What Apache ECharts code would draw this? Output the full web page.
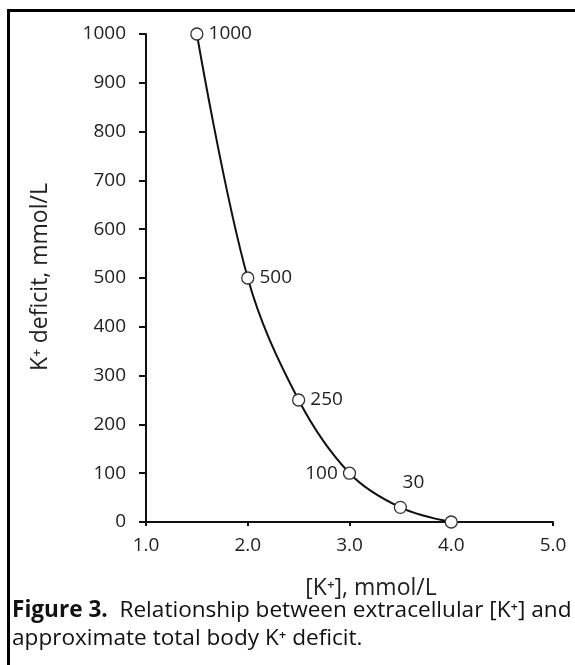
<!DOCTYPE html>
<html>
<head>
<meta charset="utf-8">
<script src="https://cdn.jsdelivr.net/npm/echarts@6/dist/echarts.min.js"></script>
<style>
  html, body { margin: 0; padding: 0; background: #fff; }
  #main { width: 575px; height: 665px; }
</style>
</head>
<body>
<div id="main"></div>
<script>
// 数据：血钾浓度 vs 钾缺失量
var kConc = [1.5, 2.0, 2.5, 3.0, 3.5, 4.0];
var deficit = [1000, 500, 250, 100, 30, 0];
var pointLabels = ['1000', '500', '250', '100', '30', ''];

var FONT = '"Open Sans", "DejaVu Sans", sans-serif';

var myChart = echarts.init(document.getElementById('main'));

// 每个点标签放的位置
function labelFor(i) {
  var text = pointLabels[i];
  if (!text) return { show: false };
  if (text === '100') return { show: true, position: 'left', distance: 5, formatter: text };
  if (text === '30') return { show: true, position: 'top', offset: [13, -4], formatter: text };
  return { show: true, position: 'right', distance: 5, formatter: text };
}

var seriesData = kConc.map(function (x, i) {
  return { value: [x, deficit[i]], label: labelFor(i) };
});

var option = {
  animation: false,
  backgroundColor: '#fff',
  textStyle: { fontFamily: FONT },
  grid: { left: 146, right: 22, top: 34, bottom: 143, containLabel: false },
  xAxis: {
    type: 'value',
    min: 1, max: 5, interval: 1,
    axisLine: { show: true, onZero: false, lineStyle: { color: '#111', width: 2 } },
    axisTick: { show: true, length: 4, lineStyle: { color: '#111', width: 2 } },
    axisLabel: {
      color: '#222', fontSize: 19, margin: 14, fontFamily: FONT,
      formatter: function (v) { return v.toFixed(1); }
    },
    splitLine: { show: false }
  },
  yAxis: {
    type: 'value',
    min: 0, max: 1000, interval: 100,
    axisLine: { show: true, lineStyle: { color: '#111', width: 2 } },
    axisTick: { show: true, length: 7, lineStyle: { color: '#111', width: 2 } },
    axisLabel: {
      color: '#222', fontSize: 19, margin: 20, fontFamily: FONT,
      formatter: function (v) { return String(v); }
    },
    splitLine: { show: false }
  },
  series: [{
    type: 'line',
    smooth: 0.35,
    data: seriesData,
    symbol: 'circle',
    symbolSize: 12,
    lineStyle: { color: '#111', width: 2 },
    itemStyle: { color: '#fff', borderColor: '#333', borderWidth: 1.3 },
    label: { color: '#222', fontSize: 19, fontFamily: FONT },
    z: 3
  }],
  graphic: [
    {
      type: 'rect',
      shape: { x: 8.5, y: 10.5, width: 700, height: 800 },
      style: { fill: 'none', stroke: '#000', lineWidth: 3 },
      silent: true
    },
    {
      type: 'text',
      x: 40, y: 277, rotation: Math.PI / 2,
      style: {
        text: 'K\u207A deficit, mmol/L',
        font: '23px ' + FONT, fill: '#222',
        align: 'center', verticalAlign: 'middle'
      }
    },
    {
      type: 'text',
      x: 371, y: 588,
      style: {
        text: '[K\u207A], mmol/L',
        font: '23px ' + FONT, fill: '#222',
        align: 'center', verticalAlign: 'middle'
      }
    },
    {
      type: 'text',
      x: 12, y: 611,
      style: {
        text: '{b|Figure 3.}  Relationship between extracellular [K\u207A] and',
        font: '22.6px ' + FONT, fill: '#111',
        verticalAlign: 'middle',
        rich: { b: { fontWeight: 'bold', fontSize: 22.6, fontFamily: FONT, fill: '#111' } }
      }
    },
    {
      type: 'text',
      x: 12, y: 639,
      style: {
        text: 'approximate total body K\u207A deficit.',
        font: '22.6px ' + FONT, fill: '#111',
        verticalAlign: 'middle'
      }
    }
  ]
};

myChart.setOption(option);
</script>
</body>
</html>
